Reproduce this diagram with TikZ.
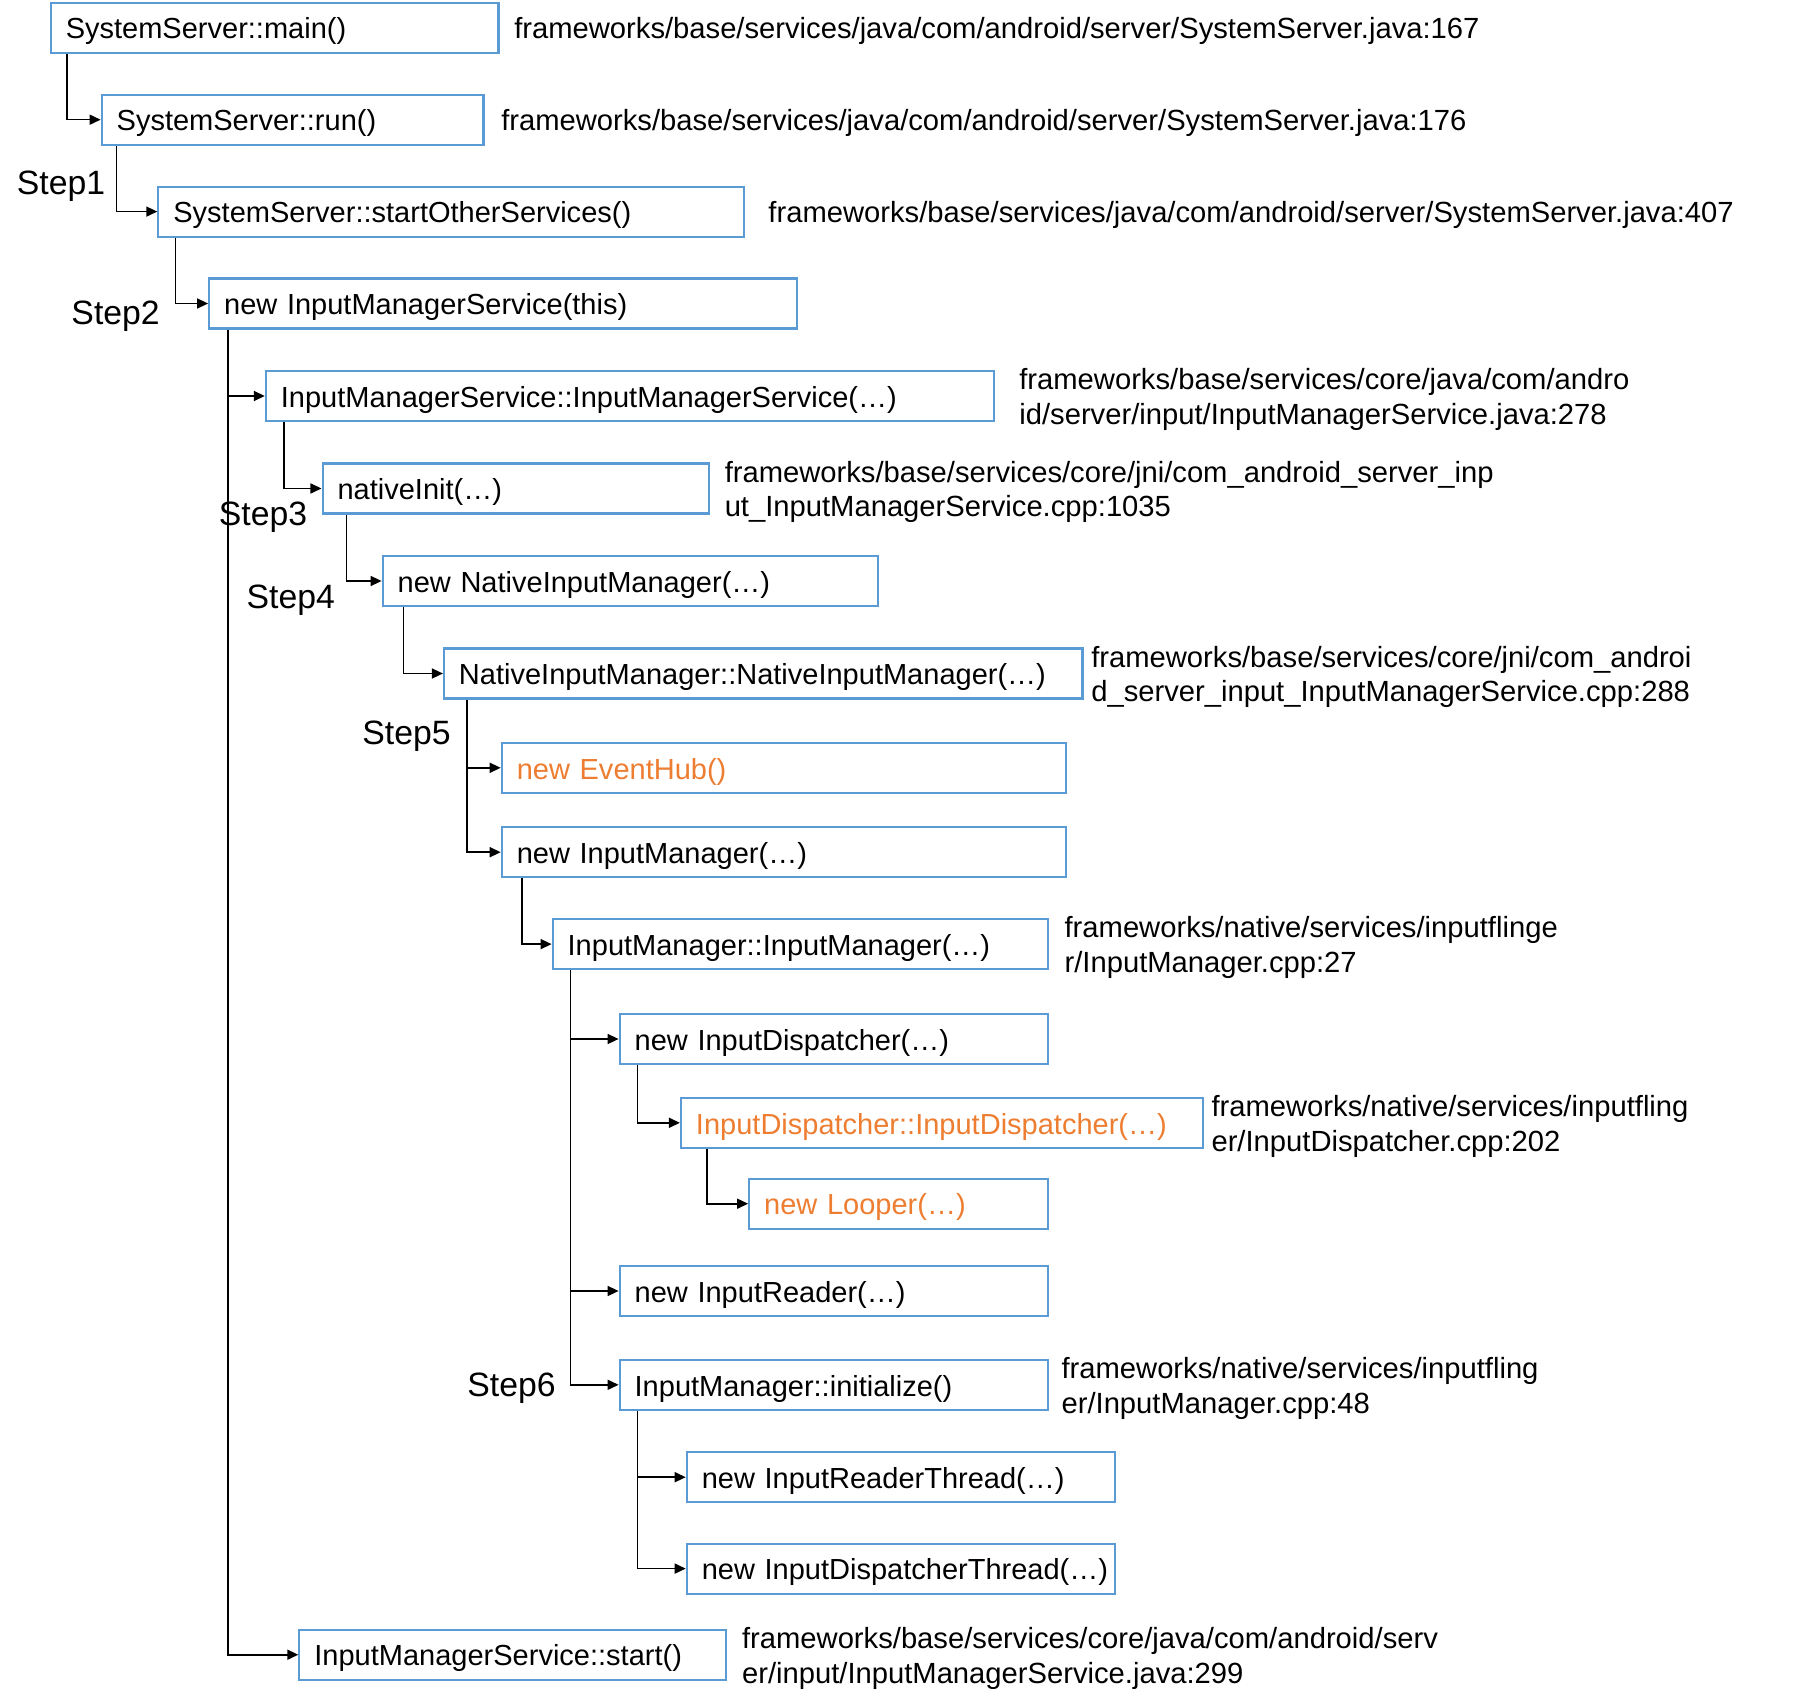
\documentclass[tikz,border=0pt]{standalone}
\usepackage{fontspec}
\setmainfont{Liberation Sans}
\usetikzlibrary{arrows.meta,positioning}
\definecolor{boxblue}{RGB}{91,155,213}
\definecolor{hotorange}{RGB}{237,125,49}

\begin{document}
\begin{tikzpicture}[x=0.01cm,y=-0.01cm,
    fn/.style={draw=boxblue,line width=0.6pt,anchor=west,minimum height=0.5cm,
               inner xsep=0.15cm,inner ysep=0pt,align=left,text width=#1,
               text height=8.2pt,text depth=1.8pt,
               font=\fontsize{8.25}{10}\selectfont},
    hot/.style={text=hotorange},
    src/.style={inner sep=0pt,align=left,yshift=-0.035cm,font=\fontsize{8.3}{9.85}\selectfont},
    steplabel/.style={inner sep=0pt,font=\fontsize{9.6}{11}\selectfont},
    call/.style={draw=black,line width=0.45pt,-{Triangle[length=1.1mm,width=1mm]}}]

    \useasboundingbox (0,0) rectangle (1813,1707);

    %%%% SystemServer %%%%%%%%%%%%%%%%%%%%%%%%%%%%%%%%%%%%%%%%%%%%%%%%%%%%%%%
    \node[fn=4.175cm] (main)   at (49.7,27.7)  {SystemServer::main()};
    \node[fn=3.516cm] (run)    at (100.6,119.7) {SystemServer::run()};
    \node[fn=5.55cm]  (others) at (157.3,211.6) {SystemServer::startOtherServices()};
    \node[fn=5.574cm] (newIms) at (208.1,303.5) {new InputManagerService(this)};

    \node[src,right=0.14cm of main]   (mainSrc)   {frameworks/base/services/java/com/android/server/SystemServer.java:167};
    \node[src,right=0.16cm of run]    (runSrc)    {frameworks/base/services/java/com/android/server/SystemServer.java:176};
    \node[src,right=0.23cm of others] (othersSrc) {frameworks/base/services/java/com/android/server/SystemServer.java:407};

    %%%% InputManagerService %%%%%%%%%%%%%%%%%%%%%%%%%%%%%%%%%%%%%%%%%%%%%%%%
    \node[fn=6.973cm]     (imsCtor)    at (264.8,396)   {InputManagerService::InputManagerService(…)};
    \node[fn=3.562cm]     (nativeInit) at (321.5,488.5) {nativeInit(…)};
    \node[fn=4.649cm]     (newNim)     at (381.6,581)   {new NativeInputManager(…)};
    \node[fn=6.082cm]     (nimCtor)    at (442.9,673.5) {NativeInputManager::NativeInputManager(…)};
    \node[fn=5.343cm,hot] (newHub)     at (500.7,767.8) {new EventHub()};
    \node[fn=5.343cm]     (newIm)      at (500.7,852.2) {new InputManager(…)};

    \node[src,right=0.24cm of imsCtor]    (imsCtorSrc) {frameworks/base/services/core/java/com/andro\\id/server/input/InputManagerService.java:278};
    \node[src,right=0.14cm of nativeInit] (nativeSrc)  {frameworks/base/services/core/jni/com\_android\_server\_inp\\ut\_InputManagerService.cpp:1035};
    \node[src,right=0.07cm of nimCtor]    (nimSrc)     {frameworks/base/services/core/jni/com\_androi\\d\_server\_input\_InputManagerService.cpp:288};

    %%%% InputManager %%%%%%%%%%%%%%%%%%%%%%%%%%%%%%%%%%%%%%%%%%%%%%%%%%%%%%%
    \node[fn=4.649cm]     (imCtor)       at (551.6,944.1)  {InputManager::InputManager(…)};
    \node[fn=3.979cm]     (newDisp)      at (618.6,1039)   {new InputDispatcher(…)};
    \node[fn=4.915cm,hot] (dispCtor)     at (679.9,1122.8) {InputDispatcher::InputDispatcher(…)};
    \node[fn=2.684cm,hot] (newLooper)    at (748.1,1203.7) {new Looper(…)};
    \node[fn=3.979cm]     (newReader)    at (618.6,1291)   {new InputReader(…)};
    \node[fn=3.979cm]     (imInit)       at (618.6,1384.8) {InputManager::initialize()};
    \node[fn=3.978cm]     (newReaderThr) at (685.7,1477.2) {new InputReaderThread(…)};
    \node[fn=3.978cm]     (newDispThr)   at (685.7,1568.6) {\mbox{new InputDispatcherThread(…)}};
    \node[fn=3.967cm]     (imsStart)     at (298.3,1654.7) {InputManagerService::start()};

    \node[src,right=0.15cm of imCtor]   (imCtorSrc)   {frameworks/native/services/inputflinge\\r/InputManager.cpp:27};
    \node[src,right=0.07cm of dispCtor] (dispCtorSrc) {frameworks/native/services/inputfling\\er/InputDispatcher.cpp:202};
    \node[src,right=0.12cm of imInit]   (imInitSrc)   {frameworks/native/services/inputfling\\er/InputManager.cpp:48};
    \node[src,right=0.14cm of imsStart] (imsStartSrc) {frameworks/base/services/core/java/com/android/serv\\er/input/InputManagerService.java:299};

    %%%% Steps %%%%%%%%%%%%%%%%%%%%%%%%%%%%%%%%%%%%%%%%%%%%%%%%%%%%%%%%%%%%%%
    \node[steplabel] (step1) at (61,186.7)    {Step1};
    \node[steplabel] (step2) at (115.6,316.2) {Step2};
    \node[steplabel] (step3) at (263,517.4)   {Step3};
    \node[steplabel] (step4) at (290.8,600.6) {Step4};
    \node[steplabel] (step5) at (406.5,736)   {Step5};
    \node[steplabel] (step6) at (511.5,1388)  {Step6};

    %%%% Calls %%%%%%%%%%%%%%%%%%%%%%%%%%%%%%%%%%%%%%%%%%%%%%%%%%%%%%%%%%%%%%
    \draw[call] ([xshift=0.17cm]main.south west)       |- (run.west);
    \draw[call] ([xshift=0.16cm]run.south west)        |- (others.west);
    \draw[call] ([xshift=0.18cm]others.south west)     |- (newIms.west);
    \draw[call] ([xshift=0.2cm]newIms.south west)      |- (imsCtor.west);
    \draw[call] ([xshift=0.2cm]newIms.south west)      |- (imsStart.west);
    \draw[call] ([xshift=0.19cm]imsCtor.south west)    |- (nativeInit.west);
    \draw[call] ([xshift=0.25cm]nativeInit.south west) |- (newNim.west);
    \draw[call] ([xshift=0.22cm]newNim.south west)     |- (nimCtor.west);
    \draw[call] ([xshift=0.24cm]nimCtor.south west)    |- (newHub.west);
    \draw[call] ([xshift=0.24cm]nimCtor.south west)    |- (newIm.west);
    \draw[call] ([xshift=0.21cm]newIm.south west)      |- (imCtor.west);
    \draw[call] ([xshift=0.19cm]imCtor.south west)     |- (newDisp.west);
    \draw[call] ([xshift=0.19cm]imCtor.south west)     |- (newReader.west);
    \draw[call] ([xshift=0.19cm]imCtor.south west)     |- (imInit.west);
    \draw[call] ([xshift=0.19cm]newDisp.south west)    |- (dispCtor.west);
    \draw[call] ([xshift=0.27cm]dispCtor.south west)   |- (newLooper.west);
    \draw[call] ([xshift=0.19cm]imInit.south west)     |- (newReaderThr.west);
    \draw[call] ([xshift=0.19cm]imInit.south west)     |- (newDispThr.west);
\end{tikzpicture}
\end{document}
